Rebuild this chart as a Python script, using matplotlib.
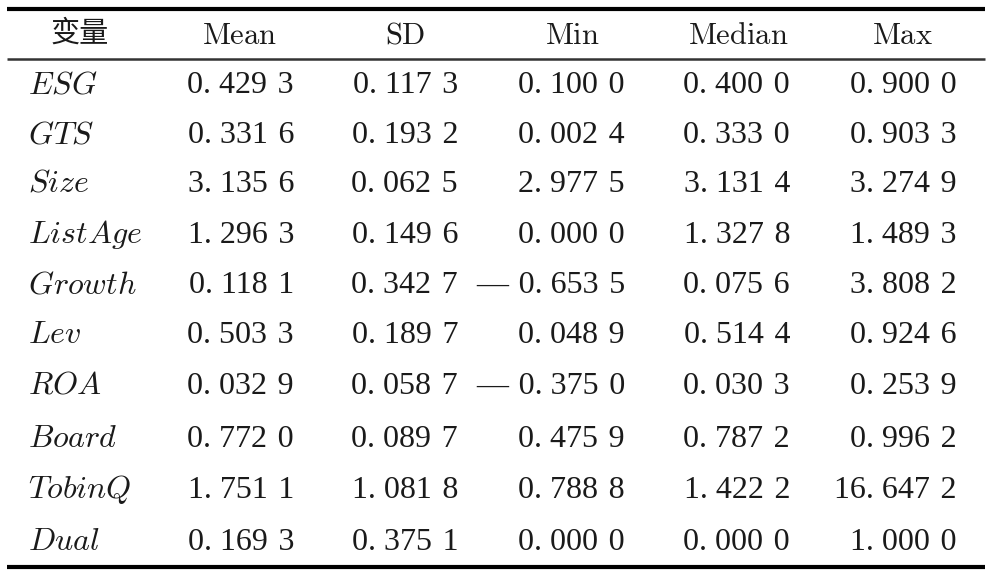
import matplotlib
matplotlib.use("Agg")
import matplotlib.pyplot as plt

headers = ["变量", "Mean", "SD", "Min", "Median", "Max"]
variables = ["ESG", "GTS", "Size", "ListAge", "Growth", "Lev", "ROA", "Board", "TobinQ", "Dual"]
mean = ["0.429 3", "0.331 6", "3.135 6", "1.296 3", "0.118 1", "0.503 3", "0.032 9", "0.772 0", "1.751 1", "0.169 3"]
sd = ["0.117 3", "0.193 2", "0.062 5", "0.149 6", "0.342 7", "0.189 7", "0.058 7", "0.089 7", "1.081 8", "0.375 1"]
vmin = ["0.100 0", "0.002 4", "2.977 5", "0.000 0", "—0.653 5", "0.048 9", "—0.375 0", "0.475 9", "0.788 8", "0.000 0"]
median = ["0.400 0", "0.333 0", "3.131 4", "1.327 8", "0.075 6", "0.514 4", "0.030 3", "0.787 2", "1.422 2", "0.000 0"]
vmax = ["0.900 0", "0.903 3", "3.274 9", "1.489 3", "3.808 2", "0.924 6", "0.253 9", "0.996 2", "16.647 2", "1.000 0"]

columns = [mean, sd, vmin, median, vmax]

plt.rcParams["mathtext.fontset"] = "cm"

W, H = 992, 576
fig = plt.figure(figsize=(W / 100, H / 100), dpi=100)
ax = fig.add_axes([0, 0, 1, 1])
ax.set_xlim(0, W)
ax.set_ylim(H, 0)
ax.axis("off")

serif = ["Liberation Serif", "DejaVu Serif"]
fs_num = 23
fs_head = 22
fs_var = 23
color = "#1a1a1a"


def fmt(s):
    # digit-group spaces a bit wider, normal space after the decimal point
    s = s.replace(" ", "\u2004")
    s = s.replace(".", ". ")
    s = s.replace("—", "—\u2004")
    return s


# rules
ax.plot([7, 985], [9, 9], color="black", lw=3.0, solid_capstyle="butt")
ax.plot([7, 985], [59, 59], color="#333333", lw=1.8, solid_capstyle="butt")
ax.plot([7, 985], [566.5, 566.5], color="black", lw=3.0, solid_capstyle="butt")

header_x = [80, 240, 405, 572, 738, 903]
right_x = [294, 458, 625, 790, 957]
header_base = 44
row_base = [93, 143, 192, 243, 293, 343, 394, 447, 498, 550]

ax.text(header_x[0], 34, headers[0], ha="center", va="center",
        fontsize=21, family=["Noto Sans CJK SC", "DejaVu Sans"], color=color,
        fontweight="light")
for hx, h in zip(header_x[1:], headers[1:]):
    ax.text(hx, header_base, r"$\mathrm{%s}$" % h, ha="center", va="baseline",
            fontsize=fs_head, color=color)

for i, (y, v) in enumerate(zip(row_base, variables)):
    ax.text(28, y, r"$%s$" % v, ha="left", va="baseline", fontsize=fs_var,
            color=color)
    for rx, col in zip(right_x, columns):
        ax.text(rx, y, fmt(col[i]), ha="right", va="baseline", fontsize=fs_num,
                family=serif, color=color)

fig.savefig("out.png", dpi=100)
